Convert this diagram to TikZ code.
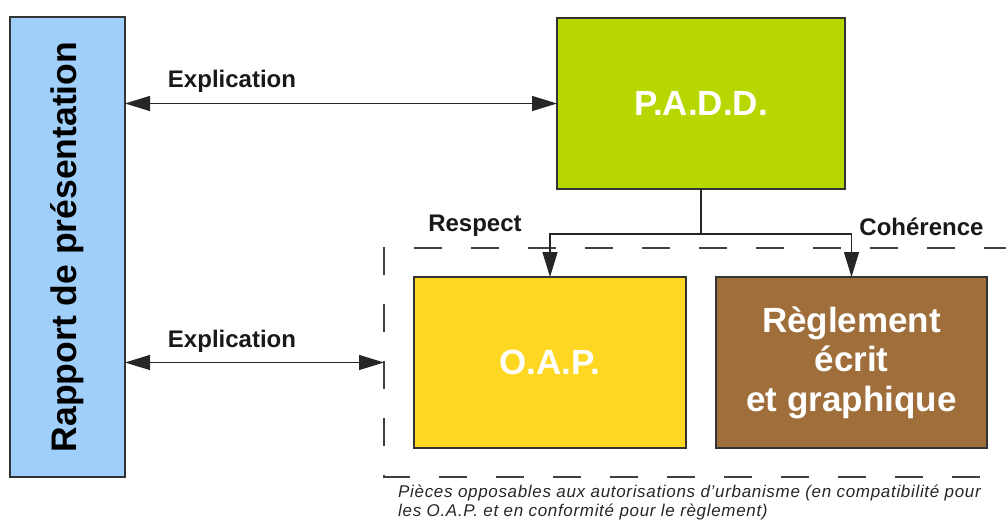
\documentclass[tikz,border=0pt]{standalone}
\usepackage{fontspec}
\setmainfont{Liberation Sans}
\usetikzlibrary{arrows.meta}
\definecolor{rapportblue}{HTML}{9FCFFA}
\definecolor{paddgreen}{HTML}{B8D600}
\definecolor{oapyellow}{HTML}{FDD722}
\definecolor{reglbrown}{HTML}{9F6E3A}
\definecolor{edge}{HTML}{333333}
\tikzset{
  box/.style={draw=edge, line width=1.2pt, inner sep=0pt, outer sep=0pt, text=white, font=\fontsize{35}{39.5}\selectfont\bfseries, align=center},
  lbl/.style={inner sep=0pt, font=\fontsize{24}{28}\selectfont\bfseries, text=black!90},
  conn/.style={line width=1.2pt, draw=black!85},
  tip/.style={-{Triangle[length=25pt,width=15pt]}},
  bitip/.style={{Triangle[length=25pt,width=15pt]}-{Triangle[length=25pt,width=15pt]}},
  grp/.style={line width=1.3pt, draw=black!75, dash pattern=on 28pt off 29pt}
}
\begin{document}
\begin{tikzpicture}[x=1pt,y=-1pt]
\useasboundingbox (0,0) rectangle (1006,524);
\node[box, fill=rapportblue, text=black, minimum width=115pt, minimum height=460pt] (rapport) at (67.5,247) {};
\node[rotate=90, inner sep=0pt, font=\fontsize{35.5}{40}\selectfont\bfseries] (rapporttxt) at (rapport.center) {Rapport de présentation};
\node[box, fill=paddgreen, minimum width=288pt, minimum height=171pt] (padd) at (701,103.5) {P.A.D.D.};
\node[box, fill=oapyellow, minimum width=272pt, minimum height=171pt] (oap) at (550,362.5) {O.A.P.};
\node[box, fill=reglbrown, minimum width=271pt, minimum height=171pt] (regl) at (851.5,362.5) {Règlement\\écrit\\et graphique};
\draw[grp] (1012,248) -- (384,248) -- (384,477) -- (1012,477);
\coordinate (grpW) at (384,362.5);
\coordinate (split) at (701,234);
\draw[conn] (padd.south) -- (split);
\draw[conn, tip] (split) -| (oap.north);
\draw[conn, tip] (split) -| (regl.north);
\draw[conn, bitip] (rapport.east |- padd.west) -- (padd.west);
\draw[conn, bitip] (rapport.east |- grpW) -- (grpW);
\node[lbl] (expl1) at (232,81) {Explication};
\node[lbl] (expl2) at (232,341) {Explication};
\node[lbl] (respect) at (475,226) {Respect};
\node[lbl] (coherence) at (921.5,227) {Cohérence};
\node[anchor=north west, inner sep=0pt, align=left, font=\addfontfeature{LetterSpace=4}\fontsize{17}{19}\selectfont\itshape, text=black!85] (caption) at (398,485) {Pièces opposables aux autorisations d'urbanisme (en compatibilité pour\\les O.A.P. et en conformité pour le règlement)};
\end{tikzpicture}
\end{document}
